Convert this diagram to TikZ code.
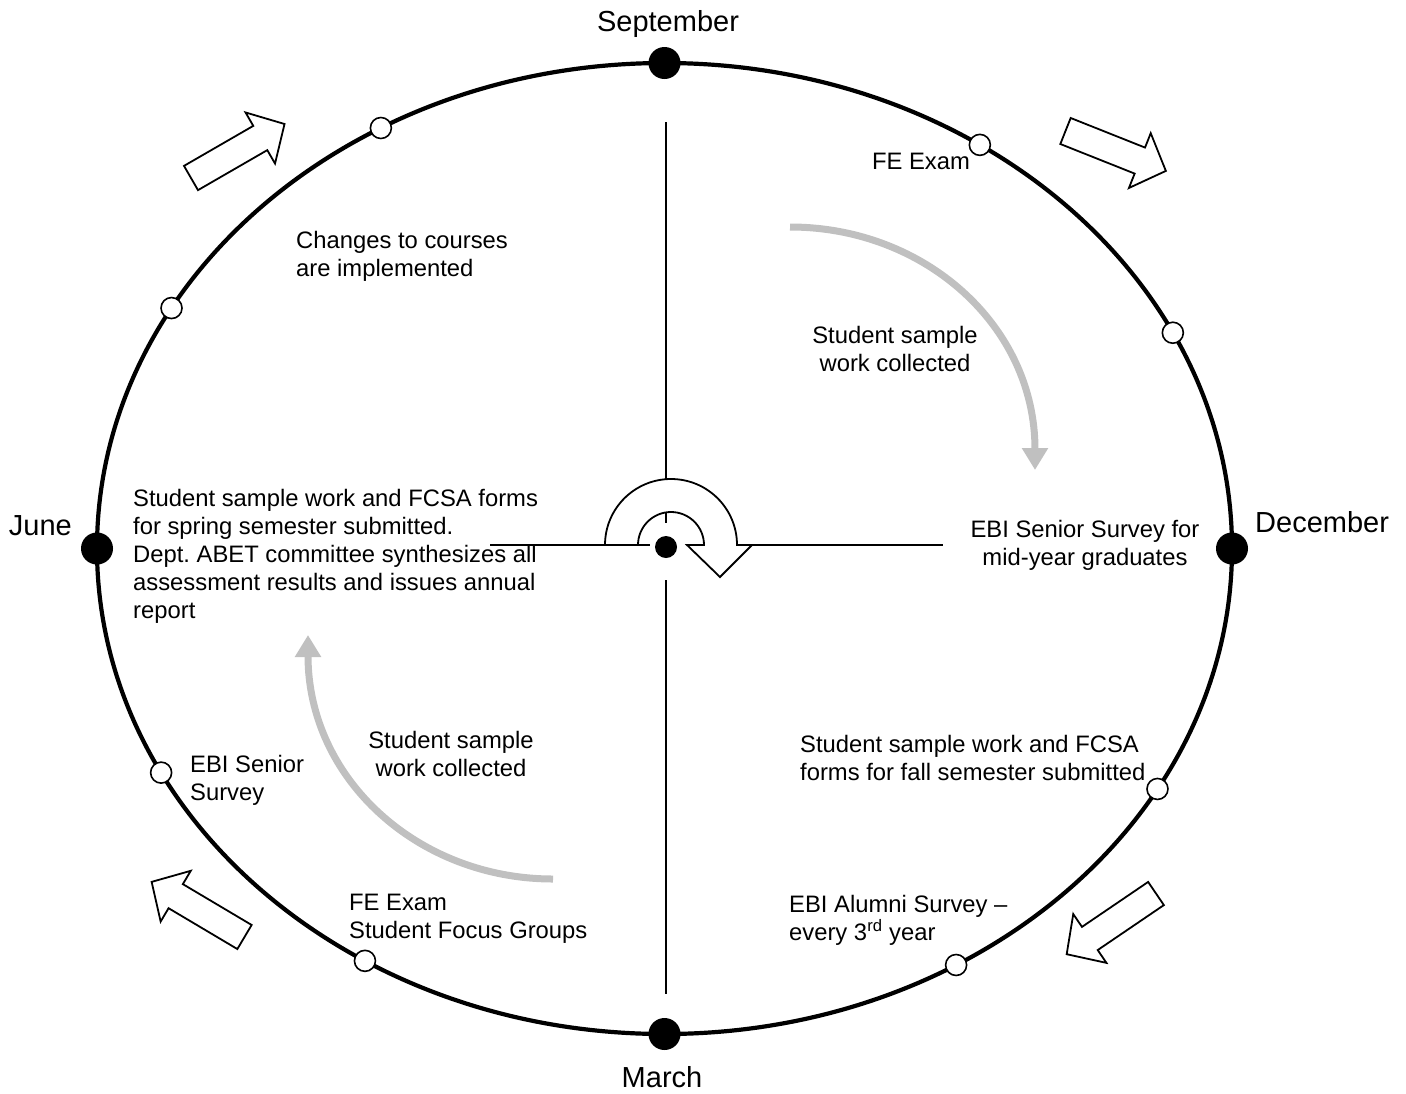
\documentclass[tikz,border=0pt]{standalone}
\usepackage{fontspec}
\setmainfont{Liberation Sans}
\usetikzlibrary{arrows.meta, positioning, shapes.geometric, calc}
\definecolor{arcgray}{RGB}{192,192,192}
\frenchspacing

\begin{document}
\begin{tikzpicture}[x=1pt, y=-1pt,
  lbl/.style={inner sep=0, font=\fontsize{23.8}{28}\selectfont},
  monthlbl/.style={inner sep=0, font=\fontsize{29}{34}\selectfont},
  month/.style={circle, fill=black, minimum size=32, inner sep=0},
  event/.style={circle, draw, line width=1.6, fill=white, minimum size=21, inner sep=0},
  cross/.style={line width=1.5},
  flow/.style={line width=7, arcgray, -{Triangle[width=25pt,length=22pt]}},
  blockarrow/.pic={\draw[line width=1.8, fill=white] (0,-14) -- (80,-14) -- (80,-29.5) -- (108,0) -- (80,29.5) -- (80,14) -- (0,14) -- cycle;}
]
\useasboundingbox (0,0) rectangle (1406,1093);

% the year
\node[draw, ellipse, line width=4.2, minimum width=1135, minimum height=971, inner sep=0, outer sep=0] (ring) at (664.5,548.5) {};

% quadrant lines
\coordinate (vt) at (666,122);
\coordinate (vtin) at (666,523);
\coordinate (vbin) at (666,580);
\coordinate (vb) at (666,994);
\coordinate (hl) at (490,545);
\coordinate (hlin) at (650,545);
\coordinate (hrin) at (752,545);
\coordinate (hr) at (943,545);
\draw[cross] (vt) -- (vtin);
\draw[cross] (vbin) -- (vb);
\draw[cross] (hl) -- (hlin);
\draw[cross] (hrin) -- (hr);

% turning arrow in the middle
\draw[line width=1.8, fill=white] (638,545) arc[start angle=180, end angle=360, radius=33]
  -- (687,545) -- (720,577) -- (752,545) -- (737,545)
  arc[start angle=0, end angle=-180, radius=66] -- cycle;
\node[circle, fill=black, minimum size=22, inner sep=0] (hub) at (666,547) {};

% months
\node[month] (sep) at (ring.north) {};
\node[month] (dec) at (ring.east) {};
\node[month] (mar) at (ring.south) {};
\node[month] (jun) at (ring.west) {};
\node[monthlbl, anchor=north] (seplbl) at (668,10) {September};
\node[monthlbl, anchor=west] (declbl) at (1255,522) {December};
\node[monthlbl, anchor=north] (marlbl) at (662,1066) {March};
\node[monthlbl, anchor=east] (junlbl) at (72,526) {June};

% events on the ring
\node[event] (e1) at (ring.52.6) {};
\node[event] (e2) at (ring.23.3) {};
\node[event] (e3) at (ring.-26.8) {};
\node[event] (e4) at (ring.-55.1) {};
\node[event] (e5) at (ring.234.6) {};
\node[event] (e6) at (ring.204.4) {};
\node[event] (e7) at (ring.154.1) {};
\node[event] (e8) at (ring.124.8) {};

% direction of the year
\pic[rotate=30] at (191,178) {blockarrow};
\pic[rotate=-21.7] at (1065.5,131) {blockarrow};
\pic[rotate=-145.8] at (1156,893.5) {blockarrow};
\pic[rotate=149.3] at (244.5,937) {blockarrow};

% sample work collection
\coordinate (fallstart) at (790,227);
\coordinate (fallend) at (1035,470);
\coordinate (springstart) at (553,879);
\coordinate (springend) at (308,635);
\draw[flow] (fallstart) .. controls (925,227) and (1035,326) .. (fallend);
\draw[flow] (springstart) .. controls (418,879) and (308,779) .. (springend);

% texts
\node[lbl, anchor=north] (fe) at (921,153) {FE Exam};
\node[lbl, anchor=north west, align=left] (changes) at (296,231) {Changes to courses\\are implemented};
\node[lbl, anchor=north, align=center] (fallwork) at (895,326) {Student sample\\work collected};
\node[lbl, anchor=north west, align=left] (spring) at (133,489) {Student sample work and FCSA forms\\for spring semester submitted.\\Dept. ABET committee synthesizes all\\assessment results and issues annual\\report};
\node[lbl, anchor=north, align=center] (midyear) at (1085,520) {EBI Senior Survey for\\mid-year graduates};
\node[lbl, anchor=north, align=center] (springwork) at (451,731) {Student sample\\work collected};
\node[lbl, anchor=north west, align=left] (fall) at (800,735) {Student sample work and FCSA\\forms for fall semester submitted};
\node[lbl, anchor=north west, align=left] (senior) at (190,755) {EBI Senior\\Survey};
\node[lbl, anchor=north west, align=left] (focus) at (349,894) {FE Exam\\Student Focus Groups};
\node[lbl, anchor=north west, align=left] (alumni) at (789,895) {EBI Alumni Survey \textendash\\every 3\textsuperscript{rd} year};
\end{tikzpicture}
\end{document}
